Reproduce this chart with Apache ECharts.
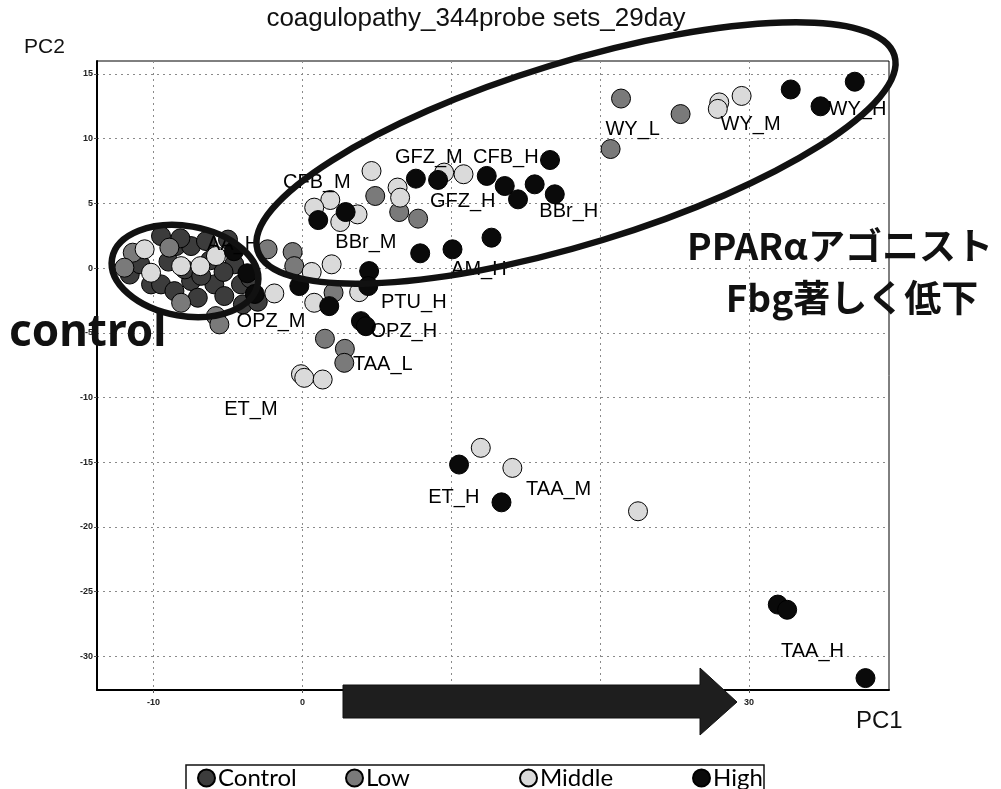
<!DOCTYPE html>
<html>
<head>
<meta charset="utf-8">
<script src="https://cdn.jsdelivr.net/npm/echarts@6/dist/echarts.min.js"></script>
<style>
  html, body { margin: 0; padding: 0; background: #fff; }
  #chart { width: 1001px; height: 789px; }
</style>
</head>
<body>
<div id="chart"></div>
<script>
// PCA scores (PC1, PC2) per dose group
const controlPts = [
  [-11.6, -0.5], [-9.5, 2.47], [-10.17, -1.26], [-8.49, 1.7], [-7.48, 1.7],
  [-6.48, 2.09], [-4.58, 0.29], [-9.5, -1.26], [-8.6, -1.78], [-7.48, -1.0],
  [-7.03, -2.29], [-5.92, -1.26], [-5.25, -2.16], [-4.13, -1.26], [-6.2, 0.6],
  [-5.3, -0.3], [-7.9, -0.1], [-9.0, 0.5], [-6.8, -0.6], [-4.0, -2.8],
  [-3.5, -0.8], [-3.0, -2.6], [-10.9, 0.3], [-8.2, 2.3], [-5.0, 2.2]
];
const lowPts = [
  [-11.4, 1.19], [-11.96, 0.03], [-8.94, 1.58], [-8.15, -2.68], [-5.81, -3.71],
  [-5.58, -4.35], [-2.34, 1.45], [-0.66, 1.24], [-0.55, 0.15], [2.09, -1.9],
  [1.51, -5.46], [2.85, -6.24], [2.81, -7.32], [4.89, 5.57], [6.5, 4.33],
  [7.77, 3.82], [21.4, 13.1], [25.4, 11.9], [20.7, 9.2]
];
const middlePts = [
  [-10.6, 1.45], [-10.17, -0.36], [-8.15, 0.15], [-6.86, 0.15], [-5.81, 0.93],
  [-1.89, -1.96], [0.62, -0.3], [1.96, 0.29], [3.81, -1.86], [0.79, -2.68],
  [-0.1, -8.2], [0.12, -8.48], [1.36, -8.61], [4.64, 7.5], [1.87, 5.26],
  [0.79, 4.67], [3.7, 4.15], [2.54, 3.56], [6.39, 6.22], [6.56, 5.44],
  [9.52, 7.38], [10.82, 7.25], [28.0, 12.8], [29.5, 13.3], [27.9, 12.3],
  [11.98, -13.89], [14.1, -15.44], [22.54, -18.79]
];
const highPts = [
  [-4.6, 1.3], [-3.7, -0.4], [-3.2, -2.0],
  [1.06, 3.71], [2.9, 4.33], [7.62, 6.91], [9.11, 6.81], [12.38, 7.12],
  [13.59, 6.34], [14.48, 5.31], [15.6, 6.47], [16.63, 8.35], [16.95, 5.7],
  [7.91, 1.14], [10.08, 1.45], [12.7, 2.35], [4.48, -0.23], [4.42, -1.39],
  [-0.21, -1.39], [1.8, -2.94], [3.93, -4.1], [4.26, -4.49],
  [32.8, 13.8], [37.1, 14.4], [34.8, 12.5], [10.52, -15.18], [13.37, -18.1],
  [31.93, -26.0], [32.56, -26.4], [37.82, -31.68]
];

// Compound/dose labels placed in score space
const labelNames = ['WY_L', 'WY_M', 'WY_H', 'GFZ_M', 'CFB_H', 'CFB_M', 'GFZ_H', 'BBr_H', 'BBr_M',
  'AM_H', 'AA_H', 'PTU_H', 'OPZ_M', 'OPZ_H', 'TAA_L', 'ET_M', 'ET_H', 'TAA_M', 'TAA_H'];
const labelPC1 = [22.18, 30.1, 37.28, 8.49, 13.66, 0.97, 10.77, 17.89, 4.26,
  11.85, -4.66, 7.48, -2.11, 6.81, 5.4, -3.46, 10.17, 17.21, 34.26];
const labelPC2 = [10.73, 11.11, 12.27, 8.56, 8.56, 6.63, 5.16, 4.38, 1.99,
  -0.1, 1.83, -2.65, -4.12, -4.9, -7.45, -10.92, -17.73, -17.11, -29.64];

// Axis ranges and tick values
const xRange = [-13.8, 39.4];
const yRange = [-32.6, 16];
const xTicks = [-10, 0, 10, 20, 30];
const yTicks = [-30, -25, -20, -15, -10, -5, 0, 5, 10, 15];

const groupNames = ['Control', 'Low', 'Middle', 'High'];
const groupColors = ['#3c3c3c', '#7a7a7a', '#dadada', '#0a0a0a'];
const groupData = [controlPts, lowPts, middlePts, highPts];

const chart = echarts.init(document.getElementById('chart'), null, { renderer: 'canvas' });

const pointSeries = groupNames.map((name, i) => ({
  name: name,
  type: 'scatter',
  data: groupData[i],
  symbol: 'circle',
  symbolSize: 19,
  itemStyle: { color: groupColors[i], borderColor: '#000', borderWidth: 1, opacity: 1 },
  emphasis: { disabled: true },
  z: 2 + i
}));

const labelSeries = {
  name: 'labels',
  type: 'scatter',
  data: labelNames.map((n, i) => ({ name: n, value: [labelPC1[i], labelPC2[i]] })),
  symbol: 'circle',
  symbolSize: 1,
  itemStyle: { color: 'rgba(0,0,0,0)', opacity: 1 },
  label: {
    show: true,
    position: 'inside',
    formatter: p => p.name,
    fontFamily: 'Liberation Sans, Arial, sans-serif',
    fontSize: 20,
    color: '#000',
    opacity: 1
  },
  emphasis: { disabled: true },
  silent: true,
  z: 10
};

const legendLefts = [197, 345, 519, 692];
const legends = groupNames.map((name, i) => ({
  data: [name],
  left: legendLefts[i],
  top: 766,
  icon: 'circle',
  itemWidth: 17,
  itemHeight: 17,
  itemGap: 0,
  padding: 0,
  selectedMode: false,
  textStyle: { fontFamily: 'Lato, "Noto Sans", sans-serif', fontSize: 24, color: '#000', padding: [0, 0, 0, -2] }
}));

const axisLabelStyle = {
  fontFamily: 'Liberation Sans, Arial, sans-serif',
  fontSize: 9,
  fontWeight: 'bold',
  color: '#222'
};

const option = {
  animation: false,
  backgroundColor: '#fff',
  legend: legends,
  grid: {
    left: 97, right: 112, top: 61, bottom: 99,
    show: true, borderColor: '#000', borderWidth: 1
  },
  xAxis: {
    type: 'value',
    min: xRange[0], max: xRange[1],
    axisLine: { show: true, onZero: false, lineStyle: { color: '#000', width: 2 } },
    axisTick: { show: true, length: 3, customValues: xTicks, lineStyle: { color: '#555' } },
    axisLabel: Object.assign({ customValues: xTicks, margin: 8 }, axisLabelStyle),
    splitLine: { show: true, lineStyle: { color: '#8a8a8a', type: [2, 4], width: 1 } }
  },
  yAxis: {
    type: 'value',
    min: yRange[0], max: yRange[1],
    axisLine: { show: true, onZero: false, lineStyle: { color: '#000', width: 2 } },
    axisTick: { show: true, length: 3, customValues: yTicks, lineStyle: { color: '#555' } },
    axisLabel: Object.assign({ customValues: yTicks, margin: 4 }, axisLabelStyle),
    splitLine: { show: true, lineStyle: { color: '#8a8a8a', type: [2, 4], width: 1 } }
  },
  series: pointSeries.concat([labelSeries]),
  graphic: [
    // chart title and axis titles
    { type: 'text', x: 476, y: 19, z: 50,
      style: { text: 'coagulopathy_344probe sets_29day', font: '26px "Liberation Sans", Arial, sans-serif',
        fill: '#111', textAlign: 'center', textVerticalAlign: 'middle' } },
    { type: 'text', left: 24, top: 37, z: 50,
      style: { text: 'PC2', font: '21px "Liberation Sans", Arial, sans-serif', fill: '#111' } },
    { type: 'text', left: 856, top: 709, z: 50,
      style: { text: 'PC1', font: '24px "Liberation Sans", Arial, sans-serif', fill: '#111' } },
    // group enclosures
    { type: 'ellipse', x: 185, y: 271, rotation: -0.17, z: 60,
      shape: { cx: 0, cy: 0, rx: 74, ry: 45 },
      style: { fill: 'none', stroke: '#111', lineWidth: 6.5 } },
    { type: 'ellipse', x: 576, y: 153, rotation: 0.297, z: 60,
      shape: { cx: 0, cy: 0, rx: 333, ry: 91 },
      style: { fill: 'none', stroke: '#111', lineWidth: 6.5 } },
    // dose direction arrow
    { type: 'polygon', z: 70,
      shape: { points: [[343, 685], [700, 685], [700, 668], [737, 702], [700, 735], [700, 718], [343, 718]] },
      style: { fill: '#1e1e1e', stroke: '#111', lineWidth: 1 } },
    // annotations
    { type: 'text', x: 9, y: 333, z: 80,
      style: { text: 'control', font: 'bold 44px "Noto Sans", sans-serif', fill: '#111', textVerticalAlign: 'middle' } },
    { type: 'text', x: 840, y: 246, z: 80,
      style: { text: 'PPARαアゴニスト', font: 'bold 37px "Noto Sans CJK JP", sans-serif', fill: '#111',
        textAlign: 'center', textVerticalAlign: 'middle' } },
    { type: 'text', x: 852, y: 298, z: 80,
      style: { text: 'Fbg著しく低下', font: 'bold 37px "Noto Sans CJK JP", sans-serif', fill: '#111',
        textAlign: 'center', textVerticalAlign: 'middle' } },
    // legend frame
    { type: 'rect', z: 40,
      shape: { x: 186, y: 765, width: 578, height: 40 },
      style: { fill: 'none', stroke: '#111', lineWidth: 1.5 } }
  ]
};

chart.setOption(option);
</script>
</body>
</html>
